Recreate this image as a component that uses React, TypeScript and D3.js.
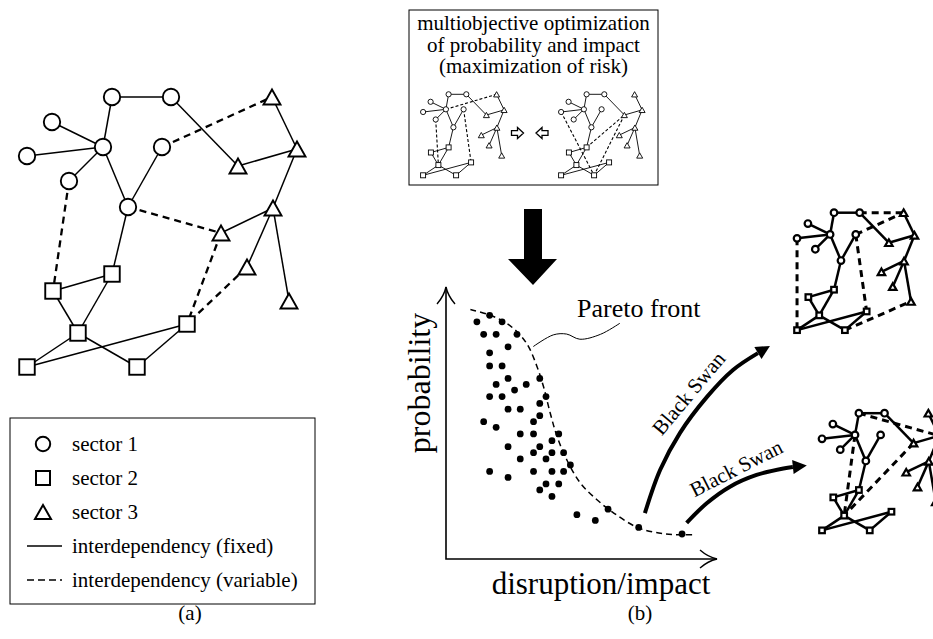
import * as d3 from "d3"
import { useEffect, useRef } from "react"

const W = 933
const H = 639
const FONT = "'Liberation Serif', 'Times New Roman', serif"

// network layout (sector 1 = circle, 2 = square, 3 = triangle)
const nodes = [
  { id: "c1", sector: 1, x: 112, y: 97 },
  { id: "c2", sector: 1, x: 171, y: 97 },
  { id: "c3", sector: 1, x: 52, y: 122 },
  { id: "c4", sector: 1, x: 27, y: 156 },
  { id: "c5", sector: 1, x: 103, y: 147 },
  { id: "c6", sector: 1, x: 162, y: 147 },
  { id: "c7", sector: 1, x: 69, y: 181 },
  { id: "c8", sector: 1, x: 128, y: 207 },
  { id: "t1", sector: 3, x: 272, y: 97 },
  { id: "t2", sector: 3, x: 297, y: 149 },
  { id: "t3", sector: 3, x: 238, y: 166 },
  { id: "t4", sector: 3, x: 273, y: 208 },
  { id: "t5", sector: 3, x: 221, y: 233 },
  { id: "t6", sector: 3, x: 247, y: 267 },
  { id: "t7", sector: 3, x: 289, y: 301 },
  { id: "s1", sector: 2, x: 112, y: 274 },
  { id: "s2", sector: 2, x: 53, y: 291 },
  { id: "s3", sector: 2, x: 78, y: 333 },
  { id: "s4", sector: 2, x: 187, y: 324 },
  { id: "s5", sector: 2, x: 27, y: 367 },
  { id: "s6", sector: 2, x: 137, y: 367 },
]

const fixedLinks = [
  ["c1", "c2"], ["c1", "c5"], ["c3", "c5"], ["c4", "c5"], ["c7", "c5"], ["c5", "c8"], ["c6", "c8"],
  ["c2", "t3"], ["t3", "t2"], ["t1", "t2"], ["t2", "t4"], ["t4", "t5"], ["t4", "t6"], ["t4", "t7"],
  ["c8", "s1"], ["s1", "s2"], ["s2", "s3"], ["s1", "s3"], ["s3", "s5"], ["s3", "s6"], ["s5", "s4"], ["s6", "s4"],
]

// variable interdependencies of each drawn configuration
const varLinksMain = [["c6", "t1"], ["c8", "t5"], ["c7", "s2"], ["t5", "s4"], ["t6", "s4"]]
const varLinksMiniA = [["c5", "t1"], ["c7", "s3"], ["c6", "s4"]]
const varLinksMiniB = [["c4", "s6"], ["s1", "t3"], ["t3", "s6"]]
const varLinksSwan1 = [["c2", "t1"], ["c6", "t1"], ["c4", "s5"], ["c6", "s4"], ["s6", "t7"]]
const varLinksSwan2 = [["c1", "t2"], ["c5", "s3"], ["t3", "s3"]]

// scatter of solutions (impact, probability)
const solImpact = [11.4, 16.1, 20.7, 13.9, 18.5, 26.2, 16.1, 22.9, 16.1, 20.7, 22.9, 18.5, 25.3, 29.6, 34.6, 16.1, 20.7, 36.9, 22.9, 27.4, 34.6, 13.9, 18.5, 32.3, 34.6, 27.4, 32.3, 41.6, 22.9, 39.1, 34.6, 32.3, 39.1, 43.4, 27.4, 36.9, 45.9, 16.1, 32.3, 39.1, 43.4, 22.9, 36.9, 41.6, 34.6, 39.1, 48.3, 55.1, 59.8, 71.1, 87.1]
const solProb = [87.2, 89.6, 87.2, 82.6, 82.6, 82.6, 75.8, 78.0, 71.0, 71.0, 66.4, 64.2, 62.1, 64.2, 66.4, 59.7, 59.7, 59.7, 55.1, 55.1, 57.2, 50.5, 48.4, 50.5, 52.7, 46.0, 46.0, 46.0, 41.3, 43.5, 41.3, 39.1, 39.1, 39.1, 36.8, 36.8, 34.6, 32.2, 32.2, 32.2, 32.2, 30.0, 27.6, 27.6, 25.4, 23.0, 16.3, 14.2, 18.3, 11.6, 9.2]

const frontImpact = [9.0, 16.4, 22.5, 27.4, 30.5, 33.6, 36.0, 38.5, 41.0, 44.6, 49.6, 55.7, 61.9, 71.1, 80.3, 87.1, 92.0]
const frontProb = [91.7, 89.6, 86.6, 82.3, 78.0, 70.7, 63.3, 53.5, 45.0, 36.4, 27.9, 21.8, 16.9, 11.4, 9.3, 8.9, 8.9]

const leaderImpact = [64.2, 57.0, 49.4, 44.5, 39.6, 32.2]
const leaderProb = [86.7, 82.6, 80.8, 82.7, 82.4, 78.1]

const swan1Impact = [73.4, 79.0, 86.3, 96.3, 105.9, 115.1]
const swan1Prob = [16.9, 32.7, 46.3, 59.6, 69.5, 75.7]
const swan2Impact = [88.8, 96.2, 104.8, 114.6, 124.5, 128.0]
const swan2Prob = [13.3, 20.5, 26.6, 30.9, 33.3, 33.8]

const legendLabels = ["sector 1", "sector 2", "sector 3", "interdependency (fixed)", "interdependency (variable)"]
const boxLines = ["multiobjective optimization", "of probability and impact", "(maximization of risk)"]

type Net = {
  ox: number; oy: number; k: number; links: string[][]
  r: number; sq: number; tri: number; nodeW: number; lineW: number; dashW: number; dash: string
}

function shape(g: any, sector: number, r: number, sq: number, tri: number, sw: number) {
  if (sector === 1) {
    g.append("circle").attr("r", r)
  } else if (sector === 2) {
    g.append("rect").attr("x", -sq / 2).attr("y", -sq / 2).attr("width", sq).attr("height", sq)
  } else {
    const h = tri * 0.88
    g.append("path").attr("d", `M0,${-h / 2}L${tri / 2},${h / 2}L${-tri / 2},${h / 2}Z`)
  }
  g.selectAll("*").attr("fill", "#fff").attr("stroke", "#000").attr("stroke-width", sw).attr("stroke-linejoin", "miter")
}

function drawNetwork(svg: any, net: Net) {
  const x = d3.scaleLinear().domain([0, 100]).range([net.ox, net.ox + 100 * net.k])
  const y = d3.scaleLinear().domain([0, 100]).range([net.oy, net.oy + 100 * net.k])
  const byId = new Map(nodes.map(n => [n.id, n]))
  const links = [
    ...fixedLinks.map(l => ({ a: byId.get(l[0])!, b: byId.get(l[1])!, dashed: false })),
    ...net.links.map(l => ({ a: byId.get(l[0])!, b: byId.get(l[1])!, dashed: true })),
  ]
  const g = svg.append("g")
  g.selectAll("line").data(links).join("line")
    .attr("x1", (d: any) => x(d.a.x)).attr("y1", (d: any) => y(d.a.y))
    .attr("x2", (d: any) => x(d.b.x)).attr("y2", (d: any) => y(d.b.y))
    .attr("stroke", "#000")
    .attr("stroke-width", (d: any) => d.dashed ? net.dashW : net.lineW)
    .attr("stroke-dasharray", (d: any) => d.dashed ? net.dash : null)

  g.selectAll("g.node").data(nodes).join("g")
    .attr("class", "node")
    .attr("transform", (d: any) => `translate(${x(d.x)},${y(d.y)})`)
    .each(function (this: any, d: any) {
      shape(d3.select(this), d.sector, net.r, net.sq, net.tri, net.nodeW)
    })
}

export default function App() {
  const ref = useRef<SVGSVGElement>(null)

  useEffect(() => {
    const svg = d3.select(ref.current)
    svg.selectAll("*").remove()
    svg.append("rect").attr("width", W).attr("height", H).attr("fill", "#fff")

    // (a) main network
    drawNetwork(svg, { ox: 0, oy: 0, k: 1, links: varLinksMain, r: 8.2, sq: 15.5, tri: 17, nodeW: 1.9, lineW: 1.5, dashW: 2.3, dash: "7,5" })

    // legend
    svg.append("rect").attr("x", 10).attr("y", 418).attr("width", 305).attr("height", 186)
      .attr("fill", "none").attr("stroke", "#000").attr("stroke-width", 1)
    const ly = d3.scalePoint().domain(legendLabels).range([444, 580])
    legendLabels.forEach((lab, i) => {
      const yy = ly(lab)!
      if (i < 3) {
        const g = svg.append("g").attr("transform", `translate(43,${yy})`)
        shape(g, i + 1, 7.2, 14, 16, 2)
      } else {
        svg.append("line").attr("x1", 27).attr("x2", 62).attr("y1", yy).attr("y2", yy)
          .attr("stroke", "#000").attr("stroke-width", 1.6)
          .attr("stroke-dasharray", i === 4 ? "7,4" : null)
      }
      svg.append("text").attr("x", 72).attr("y", yy + 7).text(lab)
        .attr("font-family", FONT).attr("font-size", 21)
    })
    svg.append("text").attr("x", 190).attr("y", 620).attr("text-anchor", "middle").text("(a)")
      .attr("font-family", FONT).attr("font-size", 21)

    // (b) optimisation box
    svg.append("rect").attr("x", 409).attr("y", 10).attr("width", 249).attr("height", 175)
      .attr("fill", "none").attr("stroke", "#000").attr("stroke-width", 1)
    boxLines.forEach((t, i) => {
      svg.append("text").attr("x", 533.5).attr("y", 30 + i * 21.5).attr("text-anchor", "middle").text(t)
        .attr("font-family", FONT).attr("font-size", 21)
    })
    const mini = { k: 0.3, oy: 65.2, r: 2.6, sq: 5, tri: 6, nodeW: 0.9, lineW: 0.9, dashW: 1.1, dash: "3,2" }
    drawNetwork(svg, { ...mini, ox: 415, links: varLinksMiniA })
    drawNetwork(svg, { ...mini, ox: 553, links: varLinksMiniB })

    // hollow arrows pointing to each other
    const hollow = (cx: number, dir: number) => {
      const p = [[-6, -2.3], [0, -2.3], [0, -5.5], [6, 0], [0, 5.5], [0, 2.3], [-6, 2.3]]
      svg.append("path")
        .attr("d", "M" + p.map(q => `${cx + q[0] * dir},${133 + q[1]}`).join("L") + "Z")
        .attr("fill", "#fff").attr("stroke", "#000").attr("stroke-width", 1.3)
    }
    hollow(517.5, 1)
    hollow(542, -1)

    // big down arrow
    svg.append("path")
      .attr("d", "M524,209L542,209L542,259L557,259L533,285L508,259L524,259Z")
      .attr("fill", "#000")

    // scatter
    const x = d3.scaleLinear().domain([0, 100]).range([446, 717])
    const y = d3.scaleLinear().domain([0, 100]).range([559, 287])

    svg.append("path").attr("d", `M${x(0)},${y(100)}L${x(0)},${y(0)}L${x(100)},${y(0)}`)
      .attr("fill", "none").attr("stroke", "#000").attr("stroke-width", 1.6)
    svg.append("path").attr("d", `M${x(0) - 9},${y(100) + 17}Q${x(0) - 2},${y(100) + 9} ${x(0)},${y(100)}Q${x(0) + 2},${y(100) + 9} ${x(0) + 9},${y(100) + 17}`)
      .attr("fill", "none").attr("stroke", "#000").attr("stroke-width", 1.4)
    svg.append("path").attr("d", `M${x(100) - 17},${y(0) - 9}Q${x(100) - 9},${y(0) - 2} ${x(100)},${y(0)}Q${x(100) - 9},${y(0) + 2} ${x(100) - 17},${y(0) + 9}`)
      .attr("fill", "none").attr("stroke", "#000").attr("stroke-width", 1.4)

    svg.append("text").attr("transform", `translate(430,383) rotate(-90)`).attr("text-anchor", "middle")
      .text("probability").attr("font-family", FONT).attr("font-size", 32)
    svg.append("text").attr("x", 601).attr("y", 594).attr("text-anchor", "middle")
      .text("disruption/impact").attr("font-family", FONT).attr("font-size", 31)

    const front = frontImpact.map((v, i) => [v, frontProb[i]] as [number, number])
    const curve = d3.line<[number, number]>().x(d => x(d[0])).y(d => y(d[1])).curve(d3.curveCatmullRom)
    svg.append("path").attr("d", curve(front)).attr("fill", "none").attr("stroke", "#000")
      .attr("stroke-width", 1.5).attr("stroke-dasharray", "6,4")

    svg.selectAll("circle.sol").data(solImpact).join("circle").attr("class", "sol")
      .attr("cx", d => x(d)).attr("cy", (d, i) => y(solProb[i])).attr("r", 3.4).attr("fill", "#000")

    const leader = leaderImpact.map((v, i) => [v, leaderProb[i]] as [number, number])
    svg.append("path").attr("d", curve(leader)).attr("fill", "none").attr("stroke", "#000").attr("stroke-width", 1)
    svg.append("text").attr("x", 577).attr("y", 317).text("Pareto front").attr("font-family", FONT).attr("font-size", 26)

    svg.append("defs").append("marker").attr("id", "head").attr("viewBox", "0 0 10 10")
      .attr("refX", 0).attr("refY", 5).attr("markerWidth", 18).attr("markerHeight", 14)
      .attr("markerUnits", "userSpaceOnUse").attr("orient", "auto")
      .append("path").attr("d", "M0,0L10,5L0,10Z").attr("fill", "#000")

    const swans = [
      { pts: swan1Impact.map((v, i) => [v, swan1Prob[i]] as [number, number]), lx: 688.5, ly: 393, rot: -50 },
      { pts: swan2Impact.map((v, i) => [v, swan2Prob[i]] as [number, number]), lx: 736, ly: 468, rot: -27 },
    ]
    swans.forEach(s => {
      svg.append("path").attr("d", curve(s.pts)).attr("fill", "none").attr("stroke", "#000")
        .attr("stroke-width", 4).attr("marker-end", "url(#head)")
      svg.append("text").attr("transform", `translate(${s.lx},${s.ly}) rotate(${s.rot})`)
        .attr("text-anchor", "middle").attr("dy", "0.35em").text("Black Swan")
        .attr("font-family", FONT).attr("font-size", 21)
    })

    // resulting black swan networks
    const bold = { r: 3.3, sq: 5.6, tri: 7.5, nodeW: 2.2, lineW: 2.5, dashW: 3, dash: "7,5" }
    drawNetwork(svg, { ...bold, ox: 785.3, oy: 170.5, k: 0.435, links: varLinksSwan1 })
    drawNetwork(svg, { ...bold, ox: 810.3, oy: 371.1, k: 0.434, links: varLinksSwan2 })

    svg.append("text").attr("x", 640).attr("y", 620).attr("text-anchor", "middle").text("(b)")
      .attr("font-family", FONT).attr("font-size", 21)
  }, [])

  return <svg ref={ref} width={W} height={H} style={{ position: "absolute", left: 0, top: 0 }} />
}
